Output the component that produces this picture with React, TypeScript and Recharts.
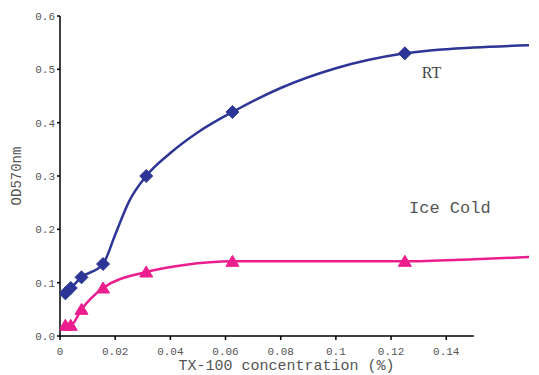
import React from 'react';
import { ComposedChart, Line, Scatter, XAxis, YAxis, ReferenceLine, ReferenceDot } from 'recharts';

// Measured points: TX-100 concentrations (%)
const concentrations = [0.00195, 0.0039, 0.0078, 0.0156, 0.03125, 0.0625, 0.125];
const rtValues = [0.08, 0.09, 0.11, 0.135, 0.3, 0.42, 0.53];
const iceValues = [0.02, 0.02, 0.05, 0.09, 0.12, 0.14, 0.14];

// Fitted curves (they continue past the last point)
const rtFitX = [0.00195, 0.0039, 0.0078, 0.0156, 0.02, 0.025, 0.03125, 0.04, 0.05, 0.0625, 0.08, 0.1, 0.125, 0.15, 0.17];
const rtFitY = [0.08, 0.09, 0.11, 0.135, 0.19, 0.252, 0.3, 0.343, 0.382, 0.42, 0.465, 0.502, 0.53, 0.541, 0.545];
const iceFitX = [0.00195, 0.0039, 0.0078, 0.0156, 0.03125, 0.045, 0.0625, 0.1, 0.125, 0.15, 0.17];
const iceFitY = [0.02, 0.02, 0.05, 0.09, 0.12, 0.133, 0.14, 0.14, 0.14, 0.144, 0.148];

const xTicks = [0, 0.02, 0.04, 0.06, 0.08, 0.1, 0.12, 0.14];
const yTicks = [0, 0.1, 0.2, 0.3, 0.4, 0.5, 0.6];
const xDomainEnd = 0.17;
const xAxisEnd = 0.15;

const rtLabelPos = { x: 0.1347, y: 0.495 };
const iceLabelPos = { x: 0.1413, y: 0.242 };

const BLUE = '#2d3696';
const PINK = '#ec1e8e';

const rtPoints = concentrations.map((x, i) => ({ x, y: rtValues[i] }));
const icePoints = concentrations.map((x, i) => ({ x, y: iceValues[i] }));
const rtCurve = rtFitX.map((x, i) => ({ x, y: rtFitY[i] }));
const iceCurve = iceFitX.map((x, i) => ({ x, y: iceFitY[i] }));

const Diamond = (props: any) => {
  const { cx, cy } = props;
  if (cx == null || cy == null) return null;
  return (
    <polygon
      points={`${cx},${cy - 6.5} ${cx + 6.5},${cy} ${cx},${cy + 6.5} ${cx - 6.5},${cy}`}
      fill={BLUE}
      stroke={BLUE}
      strokeWidth={1}
      strokeLinejoin="round"
    />
  );
};

const Triangle = (props: any) => {
  const { cx, cy } = props;
  if (cx == null || cy == null) return null;
  return (
    <polygon
      points={`${cx},${cy - 6} ${cx + 6.5},${cy + 5} ${cx - 6.5},${cy + 5}`}
      fill={PINK}
      stroke={PINK}
      strokeWidth={1}
      strokeLinejoin="round"
    />
  );
};

const MONO = '"Liberation Mono", "DejaVu Sans Mono", monospace';
const tickStyle = { fontFamily: MONO, fontSize: 11, fill: '#555' };

const YLabel = (props: any) => {
  const vb = props.viewBox || {};
  const cy = (vb.y || 0) + (vb.height || 0) / 2;
  return (
    <text
      x={17}
      y={cy}
      transform={`rotate(-90, 17, ${cy})`}
      textAnchor="middle"
      dominantBaseline="central"
      style={{ fontFamily: MONO, fontSize: 14, fill: '#555' }}
    >
      OD570nm
    </text>
  );
};

export default function App() {
  return (
    <div style={{ position: 'absolute', left: 0, top: 0, background: '#fff' }}>
      <ComposedChart width={539} height={375} margin={{ top: 16, right: 10, left: 0, bottom: 0 }}>
        <XAxis
          dataKey="x"
          type="number"
          domain={[0, xDomainEnd]}
          ticks={xTicks}
          allowDataOverflow
          axisLine={false}
          tickLine={{ stroke: '#000', strokeWidth: 1.5 }}
          tickSize={4}
          tickMargin={7}
          height={39}
          tick={tickStyle}
          tickFormatter={(v: number) => String(v)}
          label={{
            value: 'TX-100 concentration (%)',
            position: 'insideBottom',
            offset: 5,
            dx: -8,
            style: { fontFamily: MONO, fontSize: 15, fill: '#555' },
          }}
        />
        <YAxis
          type="number"
          domain={[0, 0.6]}
          ticks={yTicks}
          width={60}
          axisLine={{ stroke: '#000', strokeWidth: 1.5 }}
          tickLine={{ stroke: '#000', strokeWidth: 1.5 }}
          tickSize={3}
          tickMargin={2}
          tick={tickStyle}
          tickFormatter={(v: number) => v.toFixed(1)}
          label={<YLabel />}
        />
        <ReferenceLine
          segment={[{ x: 0, y: 0 }, { x: xAxisEnd, y: 0 }]}
          stroke="#000"
          strokeWidth={1.5}
          ifOverflow="visible"
        />
        <Line
          data={iceCurve}
          dataKey="y"
          type="monotone"
          stroke={PINK}
          strokeWidth={2.5}
          dot={false}
          activeDot={false}
          isAnimationActive={false}
        />
        <Line
          data={rtCurve}
          dataKey="y"
          type="monotone"
          stroke={BLUE}
          strokeWidth={2.5}
          dot={false}
          activeDot={false}
          isAnimationActive={false}
        />
        <Scatter data={icePoints} dataKey="y" shape={<Triangle />} isAnimationActive={false} />
        <Scatter data={rtPoints} dataKey="y" shape={<Diamond />} isAnimationActive={false} />
        <ReferenceDot
          x={rtLabelPos.x}
          y={rtLabelPos.y}
          r={0}
          fill="none"
          stroke="none"
          label={{
            value: 'RT',
            position: 'center',
            style: { fontFamily: '"Liberation Serif", serif', fontSize: 16, fill: '#444' },
          }}
        />
        <ReferenceDot
          x={iceLabelPos.x}
          y={iceLabelPos.y}
          r={0}
          fill="none"
          stroke="none"
          label={{
            value: 'Ice Cold',
            position: 'center',
            style: { fontFamily: MONO, fontSize: 17, fill: '#555' },
          }}
        />
      </ComposedChart>
    </div>
  );
}
